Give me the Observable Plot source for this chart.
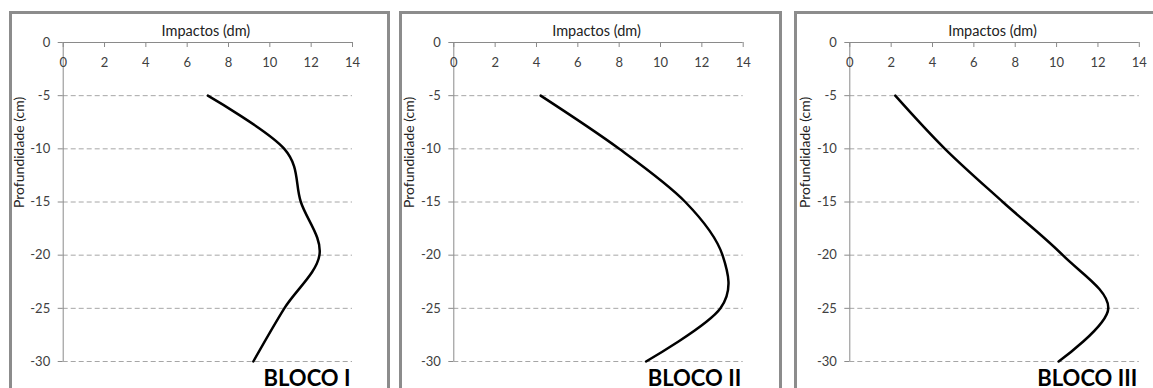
<!DOCTYPE html>
<html><head><meta charset="utf-8">
<script src="https://cdn.jsdelivr.net/npm/d3@7"></script>
<script src="https://cdn.jsdelivr.net/npm/@observablehq/plot@0.6"></script>
<style>
html,body{margin:0;padding:0;background:#fff}
body{width:1153px;height:388px;overflow:hidden;position:relative;font-family:Lato,sans-serif}
.box{position:absolute;border:3px solid #8c8c8c;box-sizing:border-box;top:11px;height:420px}
.chart{position:absolute;top:0}
</style></head><body>
<script>
// Data
const depths = [-5, -10, -15, -20, -25, -30];
const bloco1 = [7.0, 10.7, 11.5, 12.4, 10.7, 9.2];
const bloco2 = [4.2, 8.0, 11.2, 13.0, 12.9, 9.3];
const bloco3 = [2.2, 4.6, 7.4, 10.3, 12.5, 10.1];
const names = ["BLOCO I", "BLOCO II", "BLOCO III"];
const xTicks = [0, 2, 4, 6, 8, 10, 12, 14];
const yTicks = [0, -5, -10, -15, -20, -25, -30];
const gridLines = [-5, -10, -15, -20, -25, -30];
const xTitle = "Impactos (dm)";
const yTitle = "Profundidade (cm)";

const panels = [
  {left: 9,   width: 381, boxW: 381, ml: 53.7, mr: 38,   values: bloco1, name: names[0]},
  {left: 399, width: 383, boxW: 383, ml: 54.3, mr: 39.3, values: bloco2, name: names[1]},
  {left: 794, width: 359, boxW: 400, ml: 55.3, mr: 14.2, values: bloco3, name: names[2]}
];

const axisGray = "#8a8a8a";

panels.forEach(p => {
  const box = document.createElement("div");
  box.className = "box";
  box.style.left = p.left + "px";
  box.style.width = p.boxW + "px";
  document.body.appendChild(box);

  const data = depths.map((d, i) => ({d, v: p.values[i]}));
  const chart = Plot.plot({
    width: p.width,
    height: 388,
    marginTop: 42,
    marginBottom: 27,
    marginLeft: p.ml,
    marginRight: p.mr,
    style: {background: "transparent", fontFamily: "Lato, sans-serif", overflow: "visible"},
    x: {domain: [0, 14], axis: null},
    y: {domain: [-30, 0], axis: null},
    marks: [
      Plot.ruleY(gridLines, {y: d => d, x1: 0, x2: 14, stroke: "#a6a6a6", strokeDasharray: "5,3"}),
      Plot.ruleY([0], {y: d => d, x1: 0, x2: 14, stroke: axisGray}),
      Plot.ruleX([0], {x: d => d, y1: -30, y2: 0, stroke: axisGray}),
      Plot.ruleX(xTicks, {x: d => d, y1: 0, y2: 0, insetBottom: -5, stroke: axisGray}),
      Plot.axisX(xTicks, {anchor: "top", tickSize: 0, tickPadding: -20, lineAnchor: "middle",
        fontSize: 13, fill: "#404040", label: null}),
      Plot.axisY(yTicks, {anchor: "left", tickSize: 5, tickPadding: 8, tickFormat: d => String(d),
        stroke: axisGray, fill: "#404040", fontSize: 13, label: null}),
      Plot.line(data, {x: "v", y: "d", curve: "cardinal", stroke: "#000", strokeWidth: 2.5}),
      Plot.text([xTitle], {frameAnchor: "top", dy: -11, dx: -2, lineAnchor: "middle", fontSize: 14.5, fill: "#222"}),
      Plot.text([yTitle], {frameAnchor: "left", rotate: -90, dx: -44, dy: 6, fontSize: 14, fill: "#222"}),
      Plot.text([p.name], {x: 14, y: -30, textAnchor: "end", lineAnchor: "top", dy: 9, dx: -2,
        fontSize: 22, fontWeight: "bold", fill: "#000"})
    ]
  });
  chart.classList.add("chart");
  chart.style.left = p.left + "px";
  chart.style.position = "absolute";
  chart.style.top = "0px";
  document.body.appendChild(chart);
});
</script>
</body></html>
